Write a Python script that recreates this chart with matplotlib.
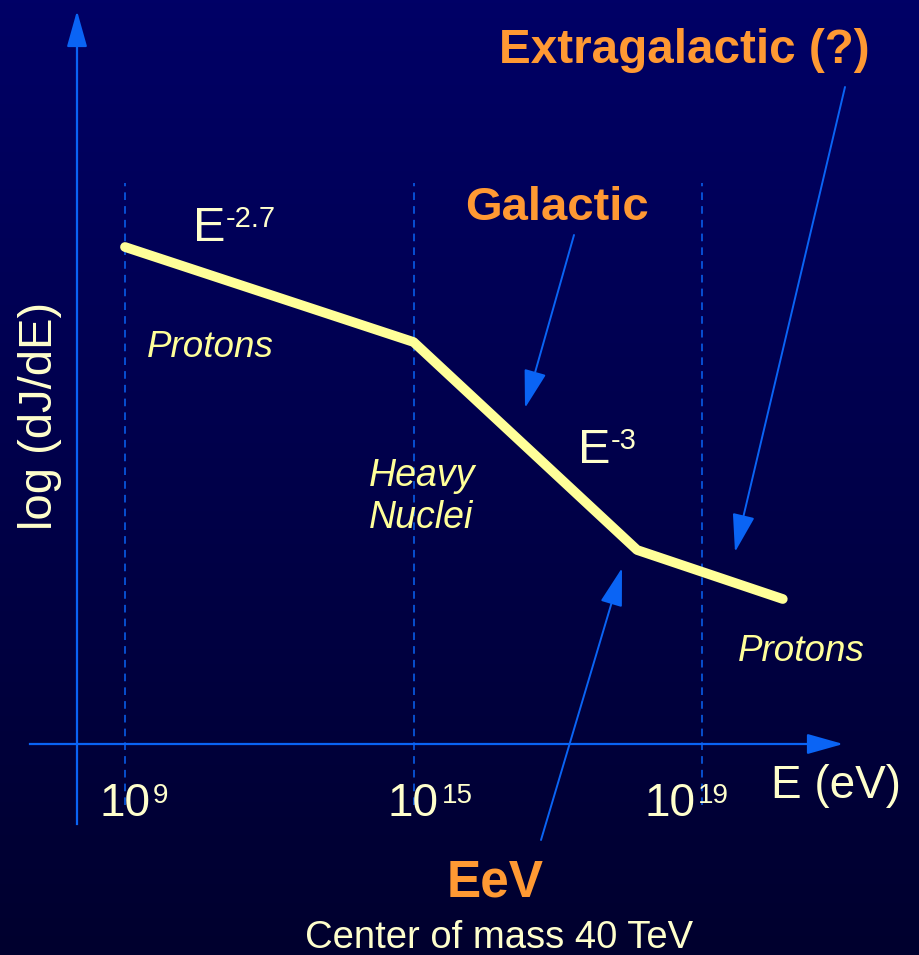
import numpy as np
import matplotlib
matplotlib.use('Agg')
import matplotlib.pyplot as plt

plt.rcParams['font.family'] = ['Liberation Sans', 'DejaVu Sans']

# schematic spectrum: x = position of decade marks (0 -> 1e9, 1 -> 1e15, 2 -> 1e19), y = log flux (arb.)
tick_pos = [0, 1, 2]
tick_base = ['10', '10', '10']
tick_exp = ['9', '15', '19']
tick_shift = [-0.09, -0.09, -0.2]   # label left edge relative to decade line
curve_x = [0.0, 1.0, 1.775, 2.28]
curve_y = [4.97, 4.02, 1.94, 1.45]

blue = '#0A64F5'
orange = '#FF9933'
yellow = '#FFFF99'
pale = '#FFFFCC'

fig = plt.figure(figsize=(9.2, 9.55), dpi=100)

# background gradient
bg = fig.add_axes([0, 0, 1, 1])
grad = np.linspace(0, 1, 256).reshape(-1, 1)
top = np.array([0, 0, 102]) / 255
bot = np.array([0, 0, 46]) / 255
img = top + (bot - top) * grad[:, :, None]
bg.imshow(img, aspect='auto', extent=[0, 1, 0, 1], origin='upper')
bg.axis('off')

ax = fig.add_axes([0, 0, 1, 1])
ax.patch.set_alpha(0)
sx = 288.5  # pixels per x unit
sy = 100.0  # pixels per y unit
ax.set_xlim(-125 / sx, (920 - 125) / sx)
ax.set_ylim(-(955 - 744) / sy, 744 / sy)
ax.axis('off')
renderer = fig.canvas.get_renderer()

def X(px):
    return (px - 125) / sx

def Y(py):
    return (744 - py) / sy

def sup_text(x, y, base, sup, size, sup_size, gap, rise):
    # base text on baseline y, superscript placed after it
    t = ax.text(x, y, base, color=pale, fontsize=size, ha='left', va='baseline')
    w = t.get_window_extent(renderer).width
    ax.annotate(sup, xy=(x, y), xytext=(w + gap, rise), textcoords='offset pixels',
                color=pale, fontsize=sup_size, ha='left', va='baseline')

# axes arrows
ax.plot([X(77), X(77)], [Y(824), Y(30)], color=blue, lw=1.6)
ax.annotate('', xy=(X(77), Y(8)), xytext=(X(77), Y(40)),
            arrowprops=dict(arrowstyle='-|>,head_length=1.6,head_width=0.45', color=blue, lw=1.6, mutation_scale=14))
ax.plot([X(30), X(820)], [0, 0], color=blue, lw=1.6)
ax.annotate('', xy=(X(846), 0), xytext=(X(815), 0),
            arrowprops=dict(arrowstyle='-|>,head_length=1.6,head_width=0.45', color=blue, lw=1.6, mutation_scale=14))

# dashed decade markers
for p in tick_pos:
    ax.plot([p, p], [Y(805), Y(183)], color=blue, lw=1.1, ls=(0, (5, 4)))

# spectrum
ax.plot(curve_x, curve_y, color=yellow, lw=7, solid_capstyle='round', solid_joinstyle='round')

# tick labels
for p, b, e, s in zip(tick_pos, tick_base, tick_exp, tick_shift):
    sup_text(p + s, Y(816), b, e, 33, 20, 3, 13)
ax.text(X(836), Y(786), 'E (eV)', color=pale, fontsize=33, ha='center', va='center')
ax.text(X(40), Y(416), 'log (dJ/dE)', color=pale, fontsize=34, ha='center', va='center', rotation=90)

# slopes
sup_text(X(193), Y(241), 'E', '-2.7', 35, 21, 0, 14)
sup_text(X(578), Y(463), 'E', '-3', 35, 21, 0, 14)

# composition
ax.text(X(147), Y(347), 'Protons', color=yellow, fontsize=26.5, style='italic', ha='left', va='center')
ax.text(X(369), Y(497), 'Heavy\nNuclei', color=yellow, fontsize=27, style='italic', ha='left', va='center',
        linespacing=1.2)
ax.text(X(738), Y(651), 'Protons', color=yellow, fontsize=26.5, style='italic', ha='left', va='center')

# region labels
ax.text(X(557), Y(208), 'Galactic', color=orange, fontsize=34, weight='bold', ha='center', va='center')
ax.text(X(684), Y(50), 'Extragalactic (?)', color=orange, fontsize=34.3, weight='bold', ha='center', va='center')
ax.text(X(495), Y(883), 'EeV', color=orange, fontsize=37, weight='bold', ha='center', va='center')
ax.text(X(499), Y(938), 'Center of mass 40 TeV', color=pale, fontsize=27.5, ha='center', va='center')

arrow = dict(arrowstyle='-|>,head_length=1.7,head_width=0.5', color=blue, lw=1.4, mutation_scale=14,
             shrinkA=0, shrinkB=0)
ax.annotate('', xy=(X(525), Y(408)), xytext=(X(574), Y(235)), arrowprops=arrow)
ax.annotate('', xy=(X(735), Y(552)), xytext=(X(845), Y(87)), arrowprops=arrow)
ax.annotate('', xy=(X(622), Y(568)), xytext=(X(541), Y(840)), arrowprops=arrow)

fig.savefig('out.png', dpi=100)
